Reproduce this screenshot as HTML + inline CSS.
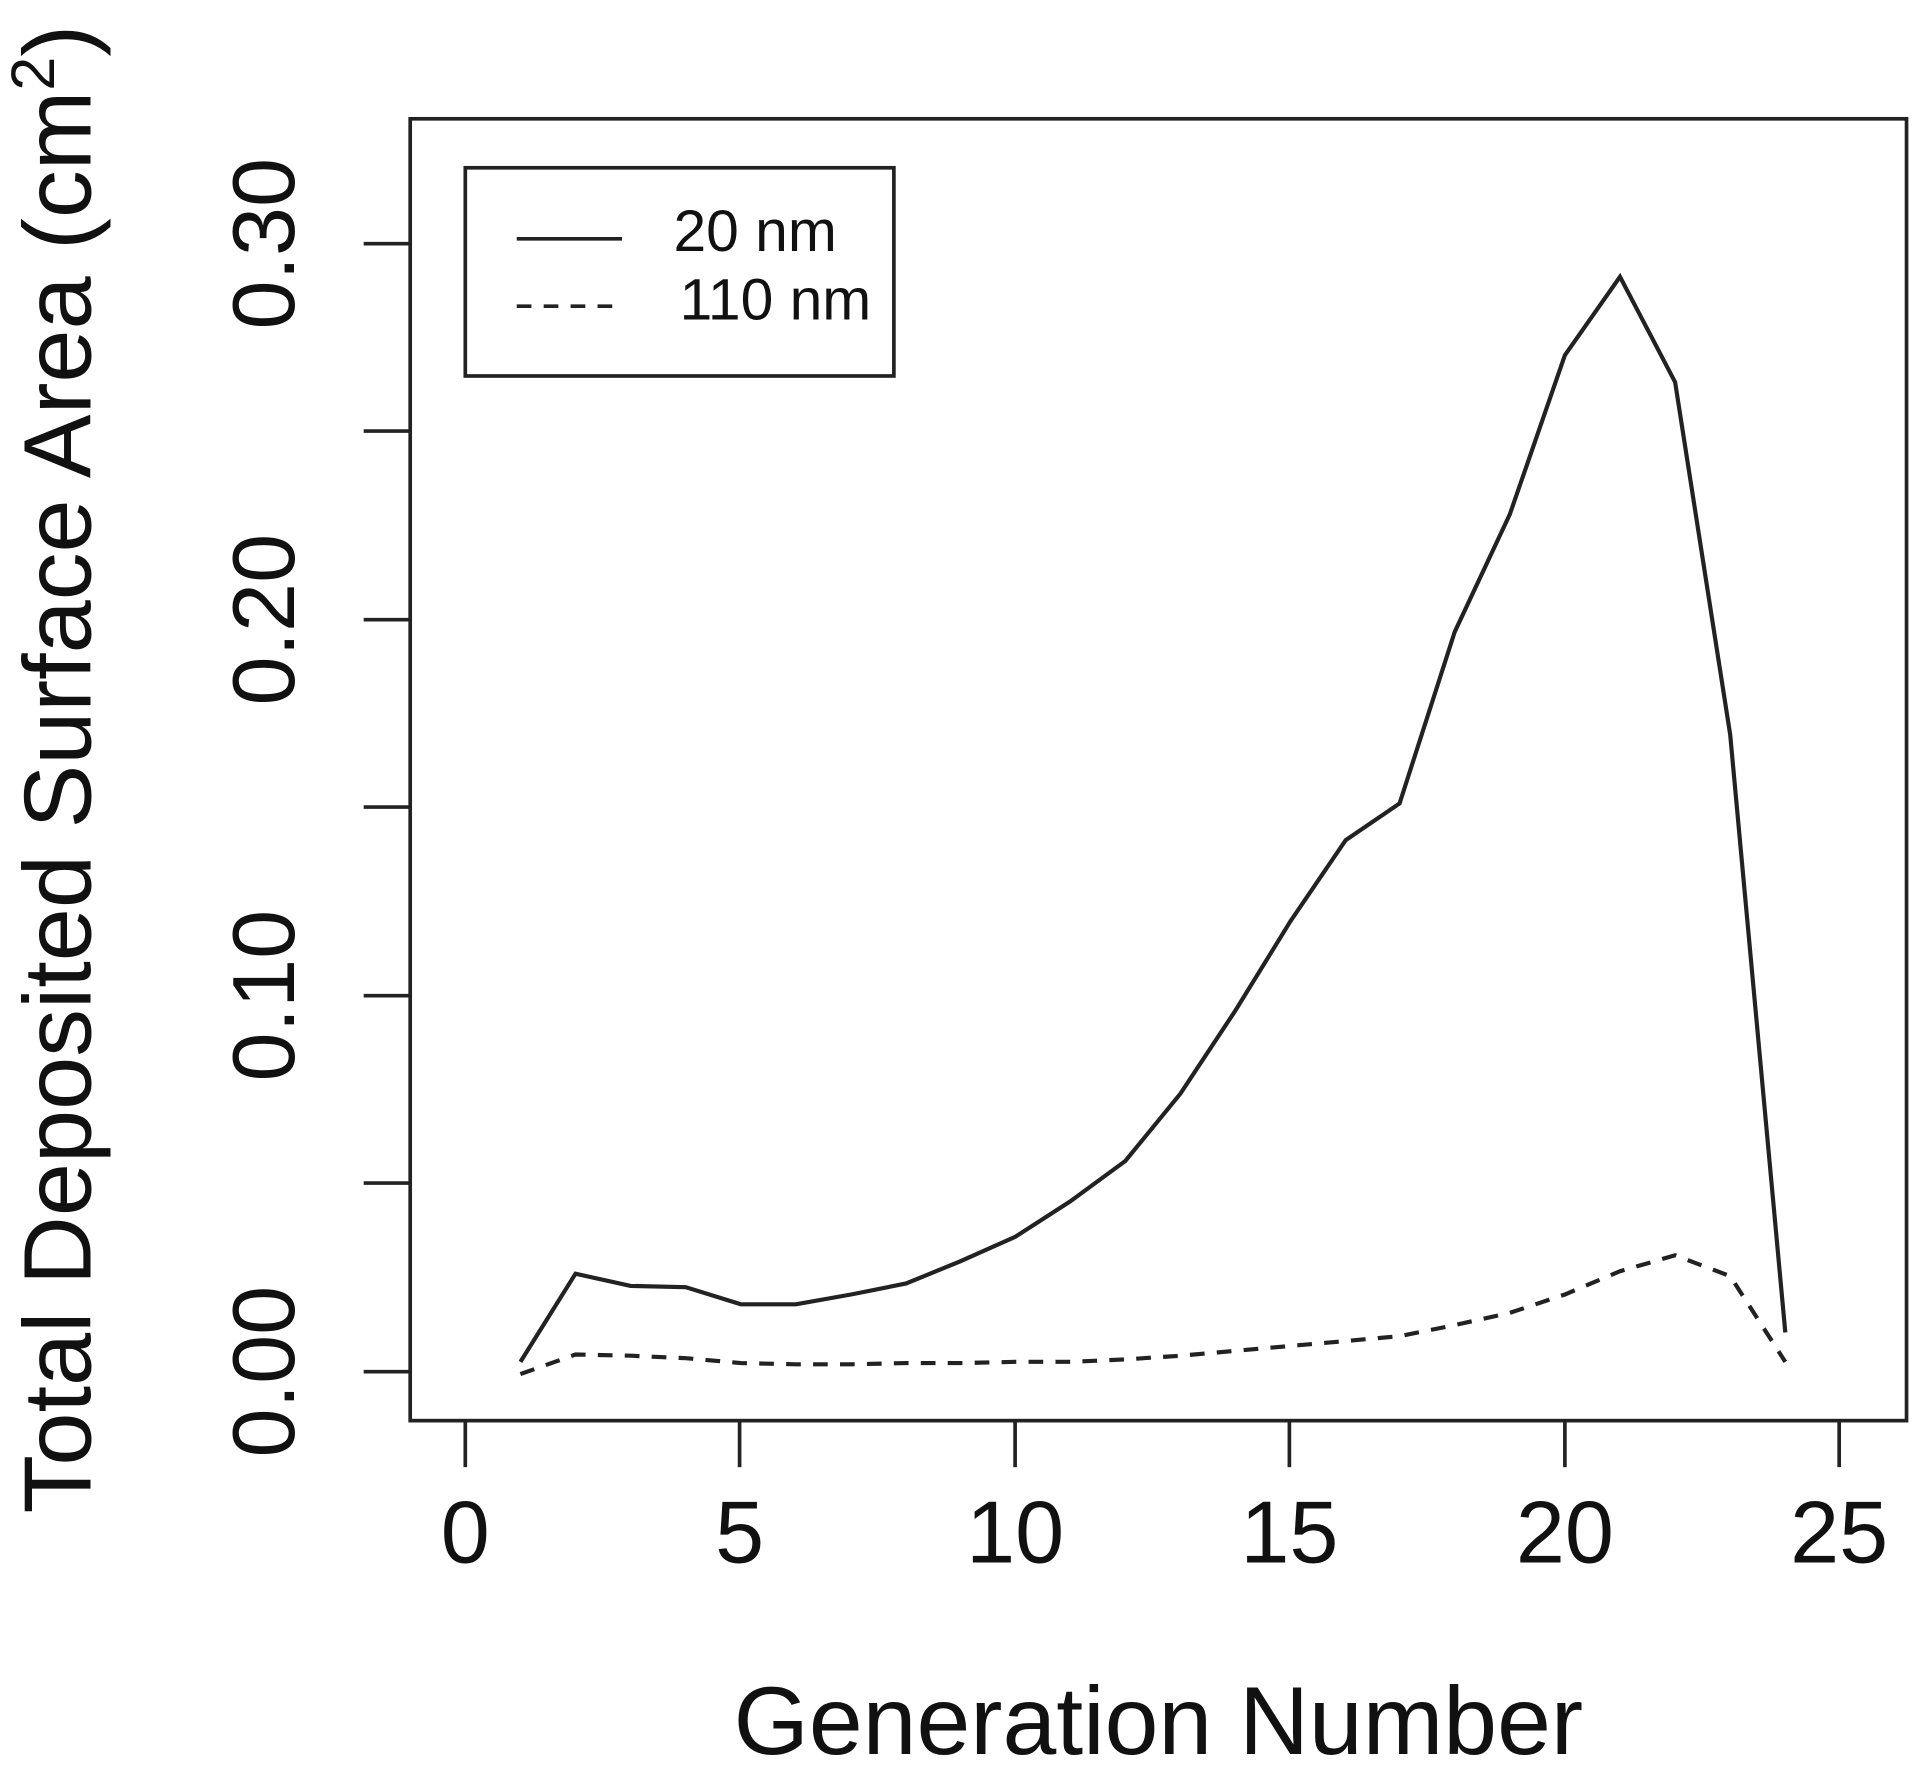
<!DOCTYPE html>
<html><head><meta charset="utf-8"><style>
html,body{margin:0;padding:0;background:#fff;}
svg{display:block;}
text{font-family:"Liberation Sans",Arial,sans-serif;fill:#111;}
</style></head><body>
<svg width="1920" height="1766" viewBox="0 0 1568 1442" preserveAspectRatio="none" xmlns="http://www.w3.org/2000/svg">
<rect width="1568" height="1442" fill="#fff"/>
<g stroke="#222" stroke-width="3" fill="none">
<rect x="335" y="97" width="1222" height="1063"/>
<line x1="297" y1="1120" x2="335" y2="1120"/>
<line x1="297" y1="966" x2="335" y2="966"/>
<line x1="297" y1="813" x2="335" y2="813"/>
<line x1="297" y1="659" x2="335" y2="659"/>
<line x1="297" y1="506" x2="335" y2="506"/>
<line x1="297" y1="352" x2="335" y2="352"/>
<line x1="297" y1="199" x2="335" y2="199"/>
<line x1="380" y1="1160" x2="380" y2="1198"/>
<line x1="604" y1="1160" x2="604" y2="1198"/>
<line x1="829" y1="1160" x2="829" y2="1198"/>
<line x1="1053" y1="1160" x2="1053" y2="1198"/>
<line x1="1278" y1="1160" x2="1278" y2="1198"/>
<line x1="1502" y1="1160" x2="1502" y2="1198"/>
<rect x="380" y="137" width="350" height="170"/>
<line x1="422" y1="195" x2="508" y2="195"/>
<line x1="422" y1="250" x2="508" y2="250" stroke-dasharray="12,10"/>
<polyline stroke-width="3.4" points="425,1112 470,1040 515,1050 560,1051 605,1065 650,1065 695,1057 740,1048 784,1030 829,1010 874,981 919,948 964,893 1009,825 1054,752 1099,686 1143,656 1188,516 1233,420 1278,290 1323,226 1368,312 1413,600 1458,1088"/>
<polyline stroke-width="3.4" stroke-dasharray="12,10" points="425,1122 470,1106 515,1107 560,1109 605,1113 650,1114 695,1114 740,1113 784,1113 829,1112 874,1112 919,1110 964,1107 1009,1103 1054,1099 1099,1095 1143,1091 1188,1082 1233,1072 1278,1057 1323,1038 1368,1025 1413,1042 1458,1112"/>
</g>
<text x="550" y="205" font-size="48">20 nm</text>
<text x="555" y="261" font-size="48">110 nm</text>
<g font-size="72" text-anchor="middle">
<text x="380" y="1276">0</text>
<text x="604" y="1276">5</text>
<text x="829" y="1276">10</text>
<text x="1053" y="1276">15</text>
<text x="1278" y="1276">20</text>
<text x="1502" y="1276">25</text>
<text transform="translate(240,1120) rotate(-90)">0.00</text>
<text transform="translate(240,813) rotate(-90)">0.10</text>
<text transform="translate(240,506) rotate(-90)">0.20</text>
<text transform="translate(240,199) rotate(-90)">0.30</text>
</g>
<text x="946" y="1432" font-size="79" text-anchor="middle">Generation Number</text>
<text transform="translate(74,628) rotate(-90)" font-size="78" text-anchor="middle">Total Deposited Surface Area (cm<tspan font-size="50" dy="-30">2</tspan><tspan dy="30">)</tspan></text>
</svg>
</body></html>
